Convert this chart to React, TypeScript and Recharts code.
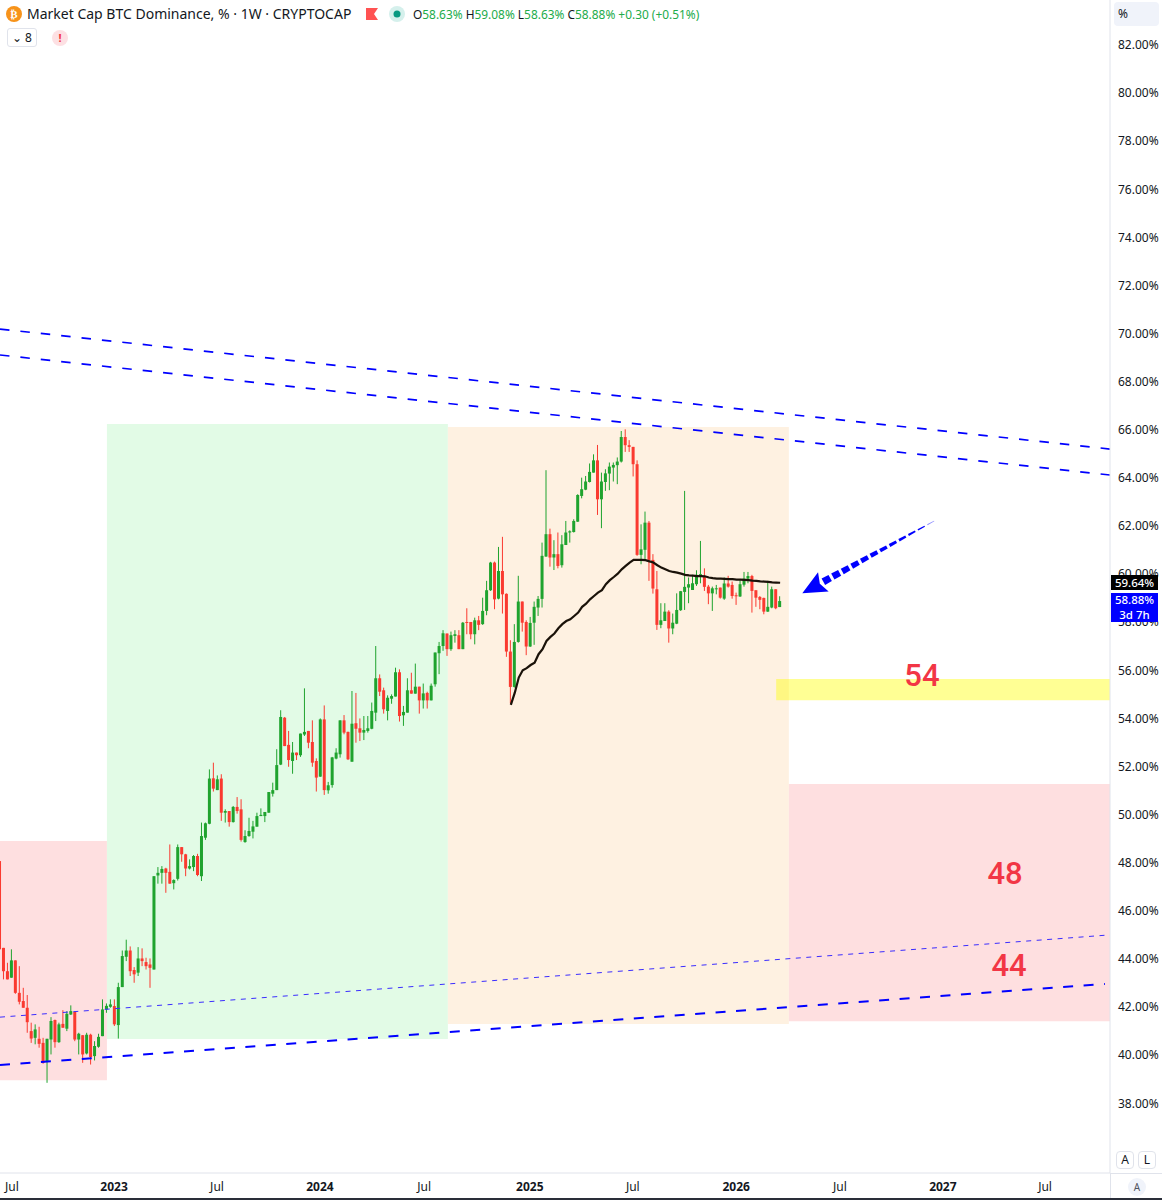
import React from 'react';
import { ComposedChart, Bar, Line, XAxis, YAxis, ReferenceArea, ReferenceLine, ReferenceDot } from 'recharts';

const opens = [
48.07,44.46,43.49,43.22,43.94,42.59,42.25,41.97,41.00,40.72,
40.68,40.51,39.72,40.65,41.46,40.54,41.30,41.10,41.69,41.80,
40.65,40.83,40.07,40.85,39.96,40.35,40.79,41.90,42.01,42.04,
41.25,42.83,44.09,44.35,43.54,43.43,44.02,43.87,43.77,43.56,
47.47,47.58,47.76,47.62,47.15,47.33,48.65,48.35,47.76,47.82,
48.28,47.44,49.04,49.62,51.51,51.02,51.50,50.08,50.15,49.69,
50.32,50.22,48.86,49.11,49.29,49.50,49.94,49.94,50.08,50.87,
51.02,52.08,54.03,52.90,52.23,52.58,52.47,53.33,53.48,53.02,
52.23,51.58,53.96,51.01,51.23,52.33,52.51,53.92,53.44,52.20,
53.80,53.59,53.41,53.48,53.57,54.24,55.67,55.17,54.31,54.82,
54.91,55.92,54.13,54.24,55.17,55.03,55.32,54.75,55.06,54.75,
55.42,56.71,57.01,57.53,56.88,57.43,57.46,56.88,58.01,58.01,
57.50,58.08,57.92,58.47,59.33,60.48,58.98,60.13,59.18,56.78,
55.31,57.18,58.86,58.01,56.99,57.98,58.61,58.97,60.73,61.66,
60.69,60.83,60.37,61.21,61.73,61.75,62.18,63.25,63.51,63.83,
64.22,64.73,63.11,63.83,64.18,64.43,64.53,64.68,65.70,65.36,
65.29,64.57,60.80,61.01,62.14,60.59,59.37,57.89,58.05,58.44,
57.74,57.94,58.50,59.26,59.44,59.34,59.58,59.95,59.92,59.48,
59.20,59.37,59.44,58.98,59.61,59.55,59.12,59.07,59.56,59.81,
59.92,59.33,59.05,59.01,58.44,58.61,59.37,58.63];

const closes = [
44.40,43.49,43.15,43.94,42.59,42.22,41.97,41.37,40.69,41.07,
40.47,39.68,40.68,41.42,40.54,41.28,41.14,41.72,41.83,40.65,
40.89,40.03,40.85,39.92,40.38,40.76,41.90,42.05,42.11,41.28,
42.83,44.12,44.35,43.49,43.36,44.02,43.91,43.70,43.63,47.44,
47.58,47.74,47.58,47.13,47.28,48.65,48.35,47.76,47.86,48.28,
47.49,49.11,49.64,51.50,51.08,51.47,50.08,50.15,49.69,50.32,
50.15,48.95,49.11,49.32,49.51,49.94,49.99,50.11,50.94,51.02,
52.06,54.06,52.85,52.27,52.58,52.47,53.37,53.44,52.99,52.16,
51.54,53.96,51.02,51.22,52.38,52.58,53.92,53.41,52.30,53.78,
53.57,53.41,53.52,53.59,54.31,55.67,55.11,54.38,54.86,54.93,
55.92,54.10,54.27,55.17,55.03,55.32,54.75,55.04,54.75,55.36,
56.74,57.01,57.54,56.88,57.46,57.50,56.88,57.98,57.97,57.50,
58.08,57.89,58.47,59.33,60.48,58.95,60.13,59.16,56.78,55.31,
57.18,58.86,57.98,56.99,57.97,58.64,58.97,60.76,61.66,60.69,
60.83,60.34,61.24,61.73,61.78,62.21,63.29,63.53,63.85,64.25,
64.73,63.11,63.85,64.19,64.47,64.54,64.68,65.70,65.36,65.29,
64.57,60.80,61.03,62.14,60.59,59.40,57.89,58.08,58.44,57.74,
57.98,58.51,59.29,59.47,59.58,59.62,59.97,60.00,59.47,59.20,
59.41,59.41,59.02,59.61,59.48,59.09,59.09,59.58,59.81,59.92,
59.30,59.02,58.93,58.44,58.64,59.37,58.58,58.88];

const highs = [
48.07,44.46,43.84,44.40,43.94,43.70,42.80,42.50,41.35,41.28,
41.18,40.72,40.68,41.58,41.48,41.35,41.87,41.83,42.07,41.80,
40.93,40.83,40.93,40.89,40.58,40.89,42.32,42.15,42.32,42.32,
43.01,44.35,44.80,44.52,43.66,44.49,44.44,44.05,44.02,47.44,
47.82,47.86,47.79,48.76,47.31,48.76,48.65,48.37,48.14,48.32,
48.37,49.67,49.67,51.88,52.16,51.63,51.68,50.22,50.15,50.36,
50.73,50.64,49.35,49.87,49.74,50.08,50.26,50.11,50.94,51.33,
52.72,54.34,54.06,53.48,53.02,52.58,53.37,55.25,53.48,53.92,
52.34,54.00,54.54,51.36,52.40,52.76,53.92,54.14,53.45,55.14,
55.06,54.00,54.10,54.10,54.66,57.01,55.83,55.28,54.96,55.00,
56.11,56.04,54.52,55.67,55.90,56.28,55.32,55.45,55.11,55.45,
56.74,57.18,57.67,57.53,57.61,57.67,57.67,58.01,58.58,58.01,
58.19,58.26,59.02,59.72,60.51,60.52,61.13,61.55,59.20,57.25,
57.92,59.93,58.86,58.08,58.22,58.86,59.09,61.31,64.32,61.89,
61.41,61.73,61.62,62.21,61.82,62.28,63.32,64.01,64.08,64.60,
64.98,65.37,64.22,64.36,64.64,64.64,64.85,65.95,66.02,65.57,
65.29,64.73,62.07,62.60,62.21,60.83,60.13,58.79,58.79,58.50,
58.36,59.20,59.30,63.46,59.86,59.97,60.16,61.38,60.24,59.55,
59.48,59.55,59.44,59.86,59.93,59.69,59.23,59.75,60.09,60.09,
59.97,59.33,59.09,59.02,59.72,59.48,59.37,59.08];

const lows = [
44.40,43.15,43.15,43.22,42.55,42.11,41.97,40.93,40.51,40.45,
40.31,39.64,38.85,40.03,40.31,40.51,41.14,41.00,41.67,40.58,
40.03,39.68,40.03,39.61,39.78,40.31,40.79,41.76,41.97,41.21,
40.69,42.83,43.91,43.29,43.01,43.29,43.70,43.56,42.80,43.56,
47.13,47.13,46.75,47.13,46.89,47.26,48.04,47.44,47.72,47.65,
47.44,47.24,48.95,49.60,50.96,51.02,49.74,49.67,49.50,49.67,
50.04,48.88,48.83,49.08,49.01,49.50,49.94,49.69,50.08,50.75,
51.02,52.06,52.85,51.99,51.70,52.27,52.40,53.27,52.76,51.99,
50.96,51.57,50.82,50.87,51.12,52.30,52.37,53.34,52.27,52.20,
52.99,53.06,53.10,53.41,53.55,53.89,54.93,54.20,53.92,54.61,
54.91,53.87,53.69,54.24,55.03,55.03,54.20,54.41,54.41,54.75,
55.32,55.84,56.81,56.60,56.81,57.15,56.88,56.88,57.50,57.29,
57.08,57.67,57.89,58.29,59.30,58.54,58.95,58.36,56.56,54.62,
55.28,57.15,57.61,56.63,56.97,57.06,58.26,58.61,60.72,60.31,
60.17,60.24,60.27,61.21,61.31,61.73,62.17,63.15,63.49,63.81,
64.22,62.46,61.91,63.46,63.49,63.85,63.74,64.64,65.08,65.08,
64.06,60.76,60.41,60.62,59.72,59.19,57.68,57.75,58.05,57.15,
57.50,57.92,58.47,58.51,58.79,59.34,59.51,59.62,59.30,58.75,
58.47,59.16,58.98,58.93,59.44,58.98,58.72,59.05,59.48,59.62,
58.40,58.64,58.54,58.33,58.43,58.58,58.54,58.63];

const maStartIndex = 129;
const maValues = [
54.56,55.07,55.70,56.00,56.09,56.22,56.32,56.67,56.88,57.22,
57.39,57.53,57.75,57.92,58.05,58.12,58.26,58.40,58.64,58.77,
58.95,59.09,59.23,59.33,59.58,59.75,59.88,60.02,60.20,60.34,
60.48,60.59,60.59,60.59,60.58,60.53,60.48,60.37,60.27,60.20,
60.13,60.09,60.06,60.02,59.97,59.95,59.94,59.92,59.92,59.91,
59.86,59.83,59.81,59.81,59.80,59.79,59.79,59.77,59.77,59.76,
59.75,59.73,59.72,59.70,59.69,59.68,59.66,59.65,59.64];

const xTicks = [3, 28.8, 54.8, 80.8, 107.1, 133.8, 159.8, 185.9, 212.1, 238.1, 263.9];
const xLabels = ['Jul', '2023', 'Jul', '2024', 'Jul', '2025', 'Jul', '2026', 'Jul', '2027', 'Jul'];
const yTicks = [38,40,42,44,46,48,50,52,54,56,58,60,62,64,66,68,70,72,74,76,78,80,82];

const regions = [
  { x1: 0, x2: 27, y1: 38.96, y2: 48.9, fill: '#fedfe0', o: 1 },
  { x1: 27, x2: 113.1, y1: 40.67, y2: 66.24, fill: '#e2fbe6', o: 1 },
  { x1: 113.1, x2: 199.2, y1: 41.29, y2: 66.12, fill: '#fef1e1', o: 1 },
  { x1: 199.2, x2: 280.3, y1: 41.41, y2: 51.27, fill: '#fedfe0', o: 1 },
  { x1: 196, x2: 280.3, y1: 54.76, y2: 55.64, fill: '#ffff00', o: 0.42 },
];
const trendLines = [
  { a: [0, 70.19], b: [280.3, 65.2], w: 1.7, dash: '9.5 11', c: '#0000ff' },
  { a: [0, 69.11], b: [280.3, 64.12], w: 1.7, dash: '9.5 11', c: '#0000ff' },
  { a: [0, 41.58], b: [280.3, 45.0], w: 1, dash: '5 5.5', c: '#3a2cff' },
  { a: [0, 39.59], b: [279, 42.96], w: 2, dash: '10 10.5', c: '#0000ff' },
];
const notes = [
  { x: 232.8, y: 55.78, t: '54' },
  { x: 253.8, y: 47.55, t: '48' },
  { x: 254.8, y: 43.73, t: '44' },
];
const arrowTail = { x: 235.9, y: 62.21 };
const arrowTip = { x: 202.6, y: 59.2 };

const rows = Array.from({ length: 282 }, (_, i) => ({
  i,
  open: i < opens.length ? opens[i] : undefined,
  close: i < opens.length ? closes[i] : undefined,
  high: i < opens.length ? highs[i] : undefined,
  low: i < opens.length ? lows[i] : undefined,
  ma: i >= maStartIndex && i - maStartIndex < maValues.length ? maValues[i - maStartIndex] : undefined,
}));

const UP = '#1fa32e';
const DOWN = '#fa3a30';
const UI = '"Noto Sans", sans-serif';

function Candle(p: any) {
  const d = p.payload;
  if (d.open === undefined) return null;
  const top = Math.min(p.y, p.y + p.height);
  const h = Math.abs(p.height);
  const k = h / Math.max(d.high - d.low, 0.001);
  const cx = p.x + p.width / 2;
  const bt = top + (d.high - Math.max(d.open, d.close)) * k;
  const bb = top + (d.high - Math.min(d.open, d.close)) * k;
  const c = d.close >= d.open ? UP : DOWN;
  return (
    <g>
      <line x1={cx} x2={cx} y1={top} y2={top + h} stroke={c} strokeWidth={1} />
      <rect x={cx - 1.5} y={bt} width={3} height={Math.max(bb - bt, 1)} fill={c} />
    </g>
  );
}

function Arrow(p: any) {
  const { x1, y1, x2, y2 } = p;
  const L = Math.hypot(x2 - x1, y2 - y1);
  const ux = (x2 - x1) / L, uy = (y2 - y1) / L;
  const nx = -uy, ny = ux;
  const pt = (s: number, n: number) => `${x1 + ux * s + nx * n},${y1 + uy * s + ny * n}`;
  const parts = [];
  const headLen = 24;
  const n = 12;
  const period = (L - headLen + 3) / n;
  for (let i = 0; i < n; i++) {
    const s0 = i * period;
    const s1 = s0 + period * 0.72;
    const w0 = 0.3 + (s0 / (L - headLen)) * 3.4;
    const w1 = 0.3 + (s1 / (L - headLen)) * 3.4;
    parts.push(<polygon key={i} points={[pt(s0, w0), pt(s1, w1), pt(s1, -w1), pt(s0, -w0)].join(' ')} fill="#0000ff" opacity={i === 0 ? 0.45 : 1} />);
  }
  return (
    <g>
      {parts}
      <polygon points={[pt(L, 0), pt(L - headLen, 11), pt(L - headLen + 4, 0), pt(L - headLen, -11)].join(' ')} fill="#0000ff" />
    </g>
  );
}

function Note(text: string) {
  return (p: any) => (
    <text x={p.cx} y={p.cy} textAnchor="middle" dominantBaseline="central" fontFamily="Roboto, sans-serif" fontWeight={500} fontSize={31} fill="#f23645">{text}</text>
  );
}

function XTick(p: any) {
  const idx = xTicks.indexOf(p.payload.value);
  const t = xLabels[idx];
  const bold = t !== 'Jul';
  return (
    <text x={p.x} y={1191} textAnchor="middle" fontFamily={UI} fontSize={12} fontWeight={bold ? 700 : 400} fill="#131722">{t}</text>
  );
}

const abs = (s: React.CSSProperties): React.CSSProperties => ({ position: 'absolute', fontFamily: UI, ...s });

export default function App() {
  return (
    <div style={{ position: 'absolute', left: 0, top: 0, width: 1162, height: 1200, background: '#fff', overflow: 'hidden' }}>
      <ComposedChart width={1162} height={1200} data={rows} margin={{ top: 0, right: 0, bottom: 0, left: 0 }} barSize={3}>
        <XAxis dataKey="i" type="number" domain={[0, 280.3]} allowDataOverflow ticks={xTicks} height={27} tick={XTick} tickLine={false} axisLine={{ stroke: '#e0e3eb' }} interval={0} />
        <YAxis orientation="right" type="number" domain={[35.1, 83.87]} allowDataOverflow ticks={yTicks} width={52} tickSize={0} tickMargin={8} axisLine={{ stroke: '#e0e3eb' }} tickLine={false} interval={0}
          tick={{ fontFamily: UI, fontSize: 12, fill: '#131722', textAnchor: 'start' }} tickFormatter={(v: number) => v.toFixed(2) + '%'} />
        {regions.map((r, i) => (
          <ReferenceArea key={i} x1={r.x1} x2={r.x2} y1={r.y1} y2={r.y2} fill={r.fill} fillOpacity={r.o} stroke="none" ifOverflow="hidden" />
        ))}
        {trendLines.map((l, i) => (
          <ReferenceLine key={i} segment={[{ x: l.a[0], y: l.a[1] }, { x: l.b[0], y: l.b[1] }]} stroke={l.c} strokeWidth={l.w} strokeDasharray={l.dash} ifOverflow="hidden" />
        ))}
        <Bar dataKey={(d: any) => (d.open === undefined ? null : [d.low, d.high])} shape={Candle} isAnimationActive={false} />
        <Line dataKey="ma" stroke="#1a1209" strokeWidth={2.2} dot={false} isAnimationActive={false} activeDot={false} />
        <ReferenceLine segment={[arrowTail, arrowTip]} shape={Arrow} ifOverflow="hidden" />
        {notes.map((n, i) => (
          <ReferenceDot key={i} x={n.x} y={n.y} r={0} shape={Note(n.t)} ifOverflow="hidden" />
        ))}
      </ComposedChart>

      {/* header */}
      <svg style={{ position: 'absolute', left: 0, top: 0 }} width={420} height={50}>
        <circle cx={14} cy={14} r={8} fill="#f7931a" />
        <text x={14} y={18} textAnchor="middle" fontSize={11} fontWeight={700} fill="#fff" fontFamily="DejaVu Sans">₿</text>
        <polygon points="366,8 378,8 374,14 378,20 366,20" fill="#ff5252" />
        <circle cx={397} cy={14} r={8} fill="#d5f0ec" />
        <circle cx={397} cy={14} r={3.5} fill="#089981" />
      </svg>
      <div style={abs({ left: 27, top: 4, fontSize: 14, color: '#131722', whiteSpace: 'nowrap', lineHeight: '20px' })}>Market Cap BTC Dominance, % · 1W · CRYPTOCAP</div>
      <div style={abs({ left: 413, top: 5, fontSize: 11.9, color: '#22ab4a', whiteSpace: 'nowrap', lineHeight: '18px' })}>
        <span style={{ color: '#131722' }}>O</span>58.63% <span style={{ color: '#131722' }}>H</span>59.08% <span style={{ color: '#131722' }}>L</span>58.63% <span style={{ color: '#131722' }}>C</span>58.88% +0.30 (+0.51%)
      </div>
      <div style={abs({ left: 7, top: 28, width: 28, height: 17, border: '1px solid #e0e3eb', borderRadius: 3, fontSize: 12, lineHeight: '17px', textAlign: 'center', color: '#131722' })}>⌄ 8</div>
      <div style={abs({ left: 52, top: 30, width: 16, height: 16, borderRadius: 8, background: '#fde0e3', color: '#f23645', fontSize: 11, fontWeight: 700, lineHeight: '16px', textAlign: 'center' })}>!</div>

      {/* price scale extras */}
      <div style={abs({ left: 1114, top: 2, width: 45, height: 24, borderRadius: 4, background: '#f0f3fa', fontSize: 12, lineHeight: '24px', paddingLeft: 4, boxSizing: 'border-box', color: '#131722' })}>%</div>
      <div style={abs({ left: 1111, top: 575, width: 47, height: 15, background: '#000', color: '#fff', fontSize: 11.5, fontWeight: 500, lineHeight: '15px', textAlign: 'center' })}>59.64%</div>
      <div style={abs({ left: 1111, top: 593, width: 47, height: 29, background: '#0000ff', color: '#fff', fontSize: 11.5, fontWeight: 500, lineHeight: '14.5px', textAlign: 'center' })}>58.88%<br />3d 7h</div>
      <div style={abs({ left: 1116, top: 1151, width: 18, height: 18, border: '1px solid #e0e3eb', borderRadius: 4, boxSizing: 'border-box', fontSize: 12, lineHeight: '16px', textAlign: 'center', color: '#131722' })}>A</div>
      <div style={abs({ left: 1138, top: 1151, width: 18, height: 18, border: '1px solid #e0e3eb', borderRadius: 4, boxSizing: 'border-box', fontSize: 12, lineHeight: '16px', textAlign: 'center', color: '#131722' })}>L</div>
      <div style={abs({ left: 1128, top: 1178, width: 18, height: 18, borderRadius: 9, background: '#f0f3fa', fontSize: 10, lineHeight: '18px', textAlign: 'center', color: '#50535e' })}>A</div>
      <div style={{ position: 'absolute', left: 1110, top: 1173, width: 1, height: 27, background: '#e0e3eb' }} />
      <div style={{ position: 'absolute', left: 1110, top: 1173, width: 52, height: 1, background: '#e0e3eb' }} />
      <div style={{ position: 'absolute', left: 0, top: 1198, width: 1162, height: 2, background: '#2a2e39' }} />
    </div>
  );
}
